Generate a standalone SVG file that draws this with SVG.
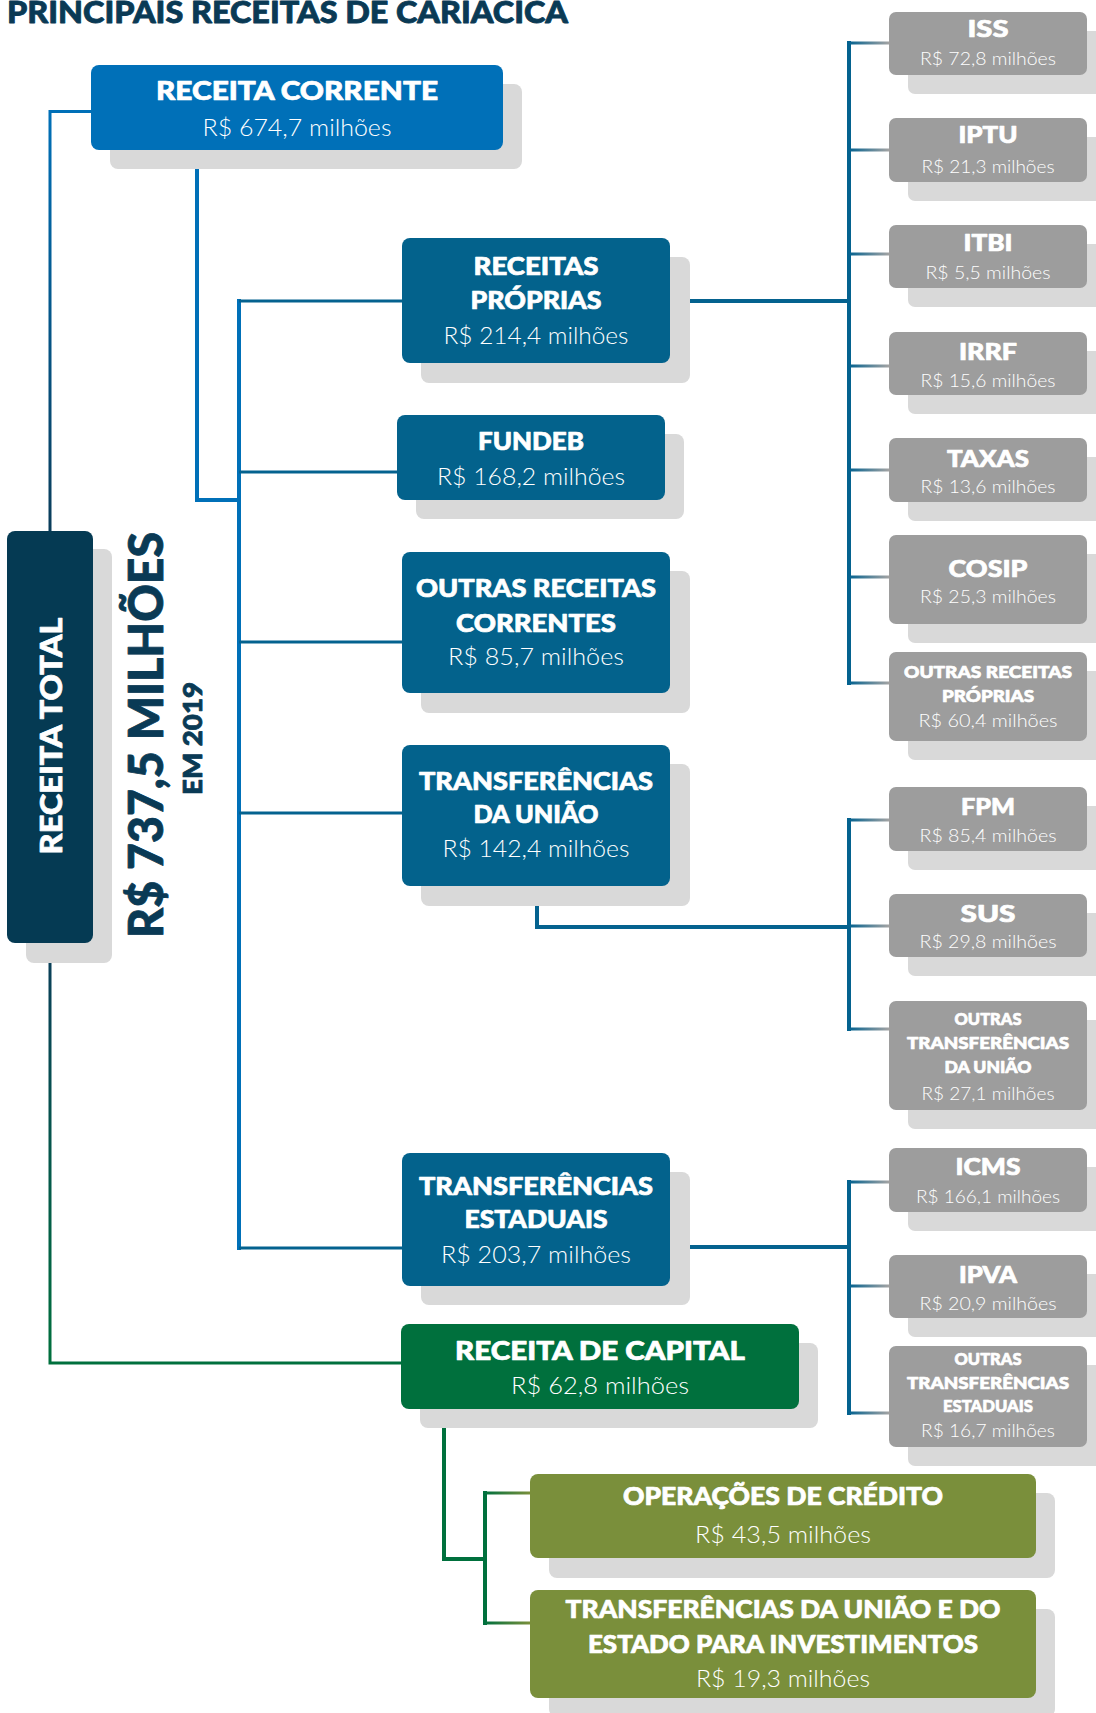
<svg xmlns="http://www.w3.org/2000/svg" width="1096" height="1713" viewBox="0 0 1096 1713">
<defs>
<style>
.t{font-family:"Lato Black",Lato,"Open Sans","Liberation Sans",sans-serif;font-weight:900;fill:#fff;stroke:#fff;stroke-width:0.7px;stroke-linejoin:round;text-anchor:middle}
.m{font-family:Lato,"Open Sans","Liberation Sans",sans-serif;font-weight:300;fill:#fff;text-anchor:middle}
.h{font-family:"Lato Black",Lato,"Open Sans","Liberation Sans",sans-serif;font-weight:900;fill:#0a3a55;stroke:#0a3a55;stroke-width:0.8px;stroke-linejoin:round}
.sh{fill:#d9d9d9}
.bc{fill:#0070b8}
.bs{fill:#03628c}
.bt{fill:#053a53}
.gr{fill:#9d9d9d}
.gn{fill:#00703d}
.ol{fill:#7a8f3b}
.ln{fill:none;stroke-linejoin:miter;stroke-linecap:butt}
</style>
<linearGradient id="gTop" gradientUnits="userSpaceOnUse" x1="0" y1="531" x2="0" y2="111">
<stop offset="0" stop-color="#0a3d5a"/><stop offset="1" stop-color="#0070b8"/>
</linearGradient>
<linearGradient id="gBot" gradientUnits="userSpaceOnUse" x1="0" y1="943" x2="0" y2="1363">
<stop offset="0" stop-color="#0a3d5a"/><stop offset="1" stop-color="#00703d"/>
</linearGradient>
<linearGradient id="gGrey" x1="0" y1="0" x2="1" y2="0">
<stop offset="0" stop-color="#04628f"/><stop offset="1" stop-color="#a3a3a3"/>
</linearGradient>
<linearGradient id="gOl" x1="0" y1="0" x2="1" y2="0">
<stop offset="0" stop-color="#00703d"/><stop offset="1" stop-color="#7a8f3b"/>
</linearGradient>
</defs>
<rect width="1096" height="1713" fill="#fff"/>

<text class="h" x="7" y="23" textLength="561" lengthAdjust="spacingAndGlyphs" style="font-size:30px">PRINCIPAIS RECEITAS DE CARIACICA</text>

<g id="connectors">
<path class="ln" d="M50,531 V111.5 H91" stroke="url(#gTop)" stroke-width="3"/>
<path class="ln" d="M50,943 V1363 H401" stroke="url(#gBot)" stroke-width="3"/>
<path class="ln" d="M197,150 V500 H239" stroke="#0070b8" stroke-width="4"/>
<path class="ln" d="M239,299 V1250" stroke="#0070b8" stroke-width="4"/>
<g stroke="#04628f" stroke-width="3" class="ln">
<path d="M239,301 H402"/>
<path d="M239,472 H397"/>
<path d="M239,642 H402"/>
<path d="M239,813 H402"/>
<path d="M239,1248 H402"/>
</g>
<g stroke="#04628f" stroke-width="4" class="ln">
<path d="M670,301 H849"/>
<path d="M849,41 V685"/>
<path d="M537,886 V927 H849"/>
<path d="M849,818 V1031"/>
<path d="M670,1247 H849"/>
<path d="M849,1180 V1415"/>
</g>
<g fill="url(#gGrey)">
<rect x="849" y="41.5" width="40" height="3"/>
<rect x="849" y="148.5" width="40" height="3"/>
<rect x="849" y="252.5" width="40" height="3"/>
<rect x="849" y="364.5" width="40" height="3"/>
<rect x="849" y="468.5" width="40" height="3"/>
<rect x="849" y="575.5" width="40" height="3"/>
<rect x="849" y="681.5" width="40" height="3"/>
<rect x="849" y="818.5" width="40" height="3"/>
<rect x="849" y="924.5" width="40" height="3"/>
<rect x="849" y="1027.5" width="40" height="3"/>
<rect x="849" y="1180.5" width="40" height="3"/>
<rect x="849" y="1284.5" width="40" height="3"/>
<rect x="849" y="1411.5" width="40" height="3"/>
</g>
<path class="ln" d="M444,1409 V1559 H485" stroke="#00703d" stroke-width="4"/>
<path class="ln" d="M485,1491 V1625" stroke="#00703d" stroke-width="4"/>
<g fill="url(#gOl)">
<rect x="485" y="1491.5" width="45" height="3"/>
<rect x="485" y="1621.5" width="45" height="3"/>
</g>
</g>

<g id="receita-total">
<rect class="sh" x="26" y="549" width="86" height="414" rx="8"/>
<rect class="bt" x="7" y="531" width="86" height="412" rx="8"/>
<text class="t" transform="translate(62,736) rotate(-90)" style="font-size:31px" textLength="237" lengthAdjust="spacingAndGlyphs">RECEITA TOTAL</text>
</g>

<g id="total-valor">
<text class="h" transform="translate(163,735) rotate(-90)" text-anchor="middle" textLength="406" lengthAdjust="spacingAndGlyphs" style="font-size:47px">R$ 737,5 MILHÕES</text>
<text class="h" transform="translate(202,738.5) rotate(-90)" text-anchor="middle" textLength="113" lengthAdjust="spacingAndGlyphs" style="font-size:27px">EM 2019</text>
</g>

<g id="receita-corrente">
<rect class="sh" x="110" y="84" width="412" height="85" rx="8"/>
<rect class="bc" x="91" y="65" width="412" height="85" rx="8"/>
<text class="t" x="297" y="100" style="font-size:26px" textLength="282" lengthAdjust="spacingAndGlyphs">RECEITA CORRENTE</text>
<text class="m" x="297" y="136" style="font-size:24px" textLength="189" lengthAdjust="spacingAndGlyphs">R$ 674,7 milhões</text>
</g>

<g id="receitas-proprias">
<rect class="sh" x="421" y="257" width="269" height="126" rx="8"/>
<rect class="bs" x="402" y="238" width="268" height="125" rx="8"/>
<text class="t" x="536" y="275" style="font-size:24px" textLength="125" lengthAdjust="spacingAndGlyphs">RECEITAS</text>
<text class="t" x="536" y="309" style="font-size:24px" textLength="131" lengthAdjust="spacingAndGlyphs">PRÓPRIAS</text>
<text class="m" x="536" y="344" style="font-size:23px" textLength="185" lengthAdjust="spacingAndGlyphs">R$ 214,4 milhões</text>
</g>

<g id="fundeb">
<rect class="sh" x="416" y="434" width="268" height="85" rx="8"/>
<rect class="bs" x="397" y="415" width="268" height="85" rx="8"/>
<text class="t" x="531" y="450" style="font-size:24px" textLength="106" lengthAdjust="spacingAndGlyphs">FUNDEB</text>
<text class="m" x="531" y="485" style="font-size:23px" textLength="188" lengthAdjust="spacingAndGlyphs">R$ 168,2 milhões</text>
</g>

<g id="outras-receitas-correntes">
<rect class="sh" x="421" y="571" width="269" height="142" rx="8"/>
<rect class="bs" x="402" y="552" width="268" height="141" rx="8"/>
<text class="t" x="536" y="597" style="font-size:24px" textLength="240" lengthAdjust="spacingAndGlyphs">OUTRAS RECEITAS</text>
<text class="t" x="536" y="632" style="font-size:24px" textLength="160" lengthAdjust="spacingAndGlyphs">CORRENTES</text>
<text class="m" x="536" y="665" style="font-size:23px" textLength="176" lengthAdjust="spacingAndGlyphs">R$ 85,7 milhões</text>
</g>

<g id="transferencias-uniao">
<rect class="sh" x="421" y="764" width="269" height="142" rx="8"/>
<rect class="bs" x="402" y="745" width="268" height="141" rx="8"/>
<text class="t" x="536" y="790" style="font-size:24px" textLength="234" lengthAdjust="spacingAndGlyphs">TRANSFERÊNCIAS</text>
<text class="t" x="536" y="823" style="font-size:24px" textLength="125" lengthAdjust="spacingAndGlyphs">DA UNIÃO</text>
<text class="m" x="536" y="857" style="font-size:23px" textLength="187" lengthAdjust="spacingAndGlyphs">R$ 142,4 milhões</text>
</g>

<g id="transferencias-estaduais">
<rect class="sh" x="421" y="1172" width="269" height="133" rx="8"/>
<rect class="bs" x="402" y="1153" width="268" height="133" rx="8"/>
<text class="t" x="536" y="1195" style="font-size:24px" textLength="234" lengthAdjust="spacingAndGlyphs">TRANSFERÊNCIAS</text>
<text class="t" x="536" y="1228" style="font-size:24px" textLength="143" lengthAdjust="spacingAndGlyphs">ESTADUAIS</text>
<text class="m" x="536" y="1263" style="font-size:23px" textLength="190" lengthAdjust="spacingAndGlyphs">R$ 203,7 milhões</text>
</g>

<g id="receita-capital">
<rect class="sh" x="420" y="1343" width="398" height="85" rx="8"/>
<rect class="gn" x="401" y="1324" width="398" height="85" rx="8"/>
<text class="t" x="600" y="1360" style="font-size:26px" textLength="290" lengthAdjust="spacingAndGlyphs">RECEITA DE CAPITAL</text>
<text class="m" x="600" y="1394" style="font-size:24px" textLength="178" lengthAdjust="spacingAndGlyphs">R$ 62,8 milhões</text>
</g>

<g id="operacoes-credito">
<rect class="sh" x="549" y="1493" width="506" height="85" rx="8"/>
<rect class="ol" x="530" y="1474" width="506" height="84" rx="8"/>
<text class="t" x="783" y="1505" style="font-size:24px" textLength="320" lengthAdjust="spacingAndGlyphs">OPERAÇÕES DE CRÉDITO</text>
<text class="m" x="783" y="1543" style="font-size:23px" textLength="176" lengthAdjust="spacingAndGlyphs">R$ 43,5 milhões</text>
</g>

<g id="transferencias-investimentos">
<rect class="sh" x="549" y="1609" width="506" height="108" rx="8"/>
<rect class="ol" x="530" y="1590" width="506" height="108" rx="8"/>
<text class="t" x="783" y="1618" style="font-size:24px" textLength="435" lengthAdjust="spacingAndGlyphs">TRANSFERÊNCIAS DA UNIÃO E DO</text>
<text class="t" x="783" y="1653" style="font-size:24px" textLength="390" lengthAdjust="spacingAndGlyphs">ESTADO PARA INVESTIMENTOS</text>
<text class="m" x="783" y="1687" style="font-size:23px" textLength="174" lengthAdjust="spacingAndGlyphs">R$ 19,3 milhões</text>
</g>

<g id="iss">
<rect class="sh" x="908" y="31" width="198" height="63" rx="7"/>
<rect class="gr" x="889" y="12" width="198" height="63" rx="7"/>
<text class="t" x="988" y="37" style="font-size:23px" textLength="41" lengthAdjust="spacingAndGlyphs">ISS</text>
<text class="m" x="988" y="65" style="font-size:17px" textLength="136" lengthAdjust="spacingAndGlyphs">R$ 72,8 milhões</text>
</g>
<g id="iptu">
<rect class="sh" x="908" y="137" width="198" height="64" rx="7"/>
<rect class="gr" x="889" y="118" width="198" height="64" rx="7"/>
<text class="t" x="988" y="143" style="font-size:23px" textLength="59" lengthAdjust="spacingAndGlyphs">IPTU</text>
<text class="m" x="988" y="173" style="font-size:17px" textLength="133" lengthAdjust="spacingAndGlyphs">R$ 21,3 milhões</text>
</g>
<g id="itbi">
<rect class="sh" x="908" y="244" width="198" height="63" rx="7"/>
<rect class="gr" x="889" y="225" width="198" height="63" rx="7"/>
<text class="t" x="988" y="251" style="font-size:23px" textLength="49" lengthAdjust="spacingAndGlyphs">ITBI</text>
<text class="m" x="988" y="279" style="font-size:17px" textLength="125" lengthAdjust="spacingAndGlyphs">R$ 5,5 milhões</text>
</g>
<g id="irrf">
<rect class="sh" x="908" y="351" width="198" height="63" rx="7"/>
<rect class="gr" x="889" y="332" width="198" height="63" rx="7"/>
<text class="t" x="988" y="360" style="font-size:23px" textLength="58" lengthAdjust="spacingAndGlyphs">IRRF</text>
<text class="m" x="988" y="387" style="font-size:17px" textLength="135" lengthAdjust="spacingAndGlyphs">R$ 15,6 milhões</text>
</g>
<g id="taxas">
<rect class="sh" x="908" y="457" width="198" height="64" rx="7"/>
<rect class="gr" x="889" y="438" width="198" height="64" rx="7"/>
<text class="t" x="988" y="467" style="font-size:23px" textLength="82" lengthAdjust="spacingAndGlyphs">TAXAS</text>
<text class="m" x="988" y="493" style="font-size:17px" textLength="135" lengthAdjust="spacingAndGlyphs">R$ 13,6 milhões</text>
</g>
<g id="cosip">
<rect class="sh" x="908" y="554" width="198" height="89" rx="7"/>
<rect class="gr" x="889" y="535" width="198" height="89" rx="7"/>
<text class="t" x="988" y="577" style="font-size:23px" textLength="79" lengthAdjust="spacingAndGlyphs">COSIP</text>
<text class="m" x="988" y="603" style="font-size:17px" textLength="136" lengthAdjust="spacingAndGlyphs">R$ 25,3 milhões</text>
</g>
<g id="outras-receitas-proprias">
<rect class="sh" x="908" y="671" width="198" height="89" rx="7"/>
<rect class="gr" x="889" y="652" width="198" height="89" rx="7"/>
<text class="t" x="988" y="678" style="font-size:17px" textLength="168" lengthAdjust="spacingAndGlyphs">OUTRAS RECEITAS</text>
<text class="t" x="988" y="702" style="font-size:17px" textLength="92" lengthAdjust="spacingAndGlyphs">PRÓPRIAS</text>
<text class="m" x="988" y="727" style="font-size:17px" textLength="139" lengthAdjust="spacingAndGlyphs">R$ 60,4 milhões</text>
</g>
<g id="fpm">
<rect class="sh" x="908" y="806" width="198" height="64" rx="7"/>
<rect class="gr" x="889" y="787" width="198" height="64" rx="7"/>
<text class="t" x="988" y="815" style="font-size:23px" textLength="54" lengthAdjust="spacingAndGlyphs">FPM</text>
<text class="m" x="988" y="842" style="font-size:17px" textLength="137" lengthAdjust="spacingAndGlyphs">R$ 85,4 milhões</text>
</g>
<g id="sus">
<rect class="sh" x="908" y="913" width="198" height="63" rx="7"/>
<rect class="gr" x="889" y="894" width="198" height="63" rx="7"/>
<text class="t" x="988" y="922" style="font-size:23px" textLength="55" lengthAdjust="spacingAndGlyphs">SUS</text>
<text class="m" x="988" y="948" style="font-size:17px" textLength="137" lengthAdjust="spacingAndGlyphs">R$ 29,8 milhões</text>
</g>
<g id="outras-transferencias-uniao">
<rect class="sh" x="908" y="1020" width="198" height="109" rx="7"/>
<rect class="gr" x="889" y="1001" width="198" height="109" rx="7"/>
<text class="t" x="988" y="1025" style="font-size:17px" textLength="67" lengthAdjust="spacingAndGlyphs">OUTRAS</text>
<text class="t" x="988" y="1049" style="font-size:17px" textLength="162" lengthAdjust="spacingAndGlyphs">TRANSFERÊNCIAS</text>
<text class="t" x="988" y="1073" style="font-size:17px" textLength="87" lengthAdjust="spacingAndGlyphs">DA UNIÃO</text>
<text class="m" x="988" y="1100" style="font-size:17px" textLength="133" lengthAdjust="spacingAndGlyphs">R$ 27,1 milhões</text>
</g>
<g id="icms">
<rect class="sh" x="908" y="1167" width="198" height="64" rx="7"/>
<rect class="gr" x="889" y="1148" width="198" height="64" rx="7"/>
<text class="t" x="988" y="1175" style="font-size:23px" textLength="65" lengthAdjust="spacingAndGlyphs">ICMS</text>
<text class="m" x="988" y="1203" style="font-size:17px" textLength="144" lengthAdjust="spacingAndGlyphs">R$ 166,1 milhões</text>
</g>
<g id="ipva">
<rect class="sh" x="908" y="1274" width="198" height="63" rx="7"/>
<rect class="gr" x="889" y="1255" width="198" height="63" rx="7"/>
<text class="t" x="988" y="1283" style="font-size:23px" textLength="58" lengthAdjust="spacingAndGlyphs">IPVA</text>
<text class="m" x="988" y="1310" style="font-size:17px" textLength="137" lengthAdjust="spacingAndGlyphs">R$ 20,9 milhões</text>
</g>
<g id="outras-transferencias-estaduais">
<rect class="sh" x="908" y="1365" width="198" height="101" rx="7"/>
<rect class="gr" x="889" y="1346" width="198" height="101" rx="7"/>
<text class="t" x="988" y="1365" style="font-size:17px" textLength="67" lengthAdjust="spacingAndGlyphs">OUTRAS</text>
<text class="t" x="988" y="1389" style="font-size:17px" textLength="162" lengthAdjust="spacingAndGlyphs">TRANSFERÊNCIAS</text>
<text class="t" x="988" y="1412" style="font-size:17px" textLength="90" lengthAdjust="spacingAndGlyphs">ESTADUAIS</text>
<text class="m" x="988" y="1437" style="font-size:17px" textLength="134" lengthAdjust="spacingAndGlyphs">R$ 16,7 milhões</text>
</g>
</svg>
